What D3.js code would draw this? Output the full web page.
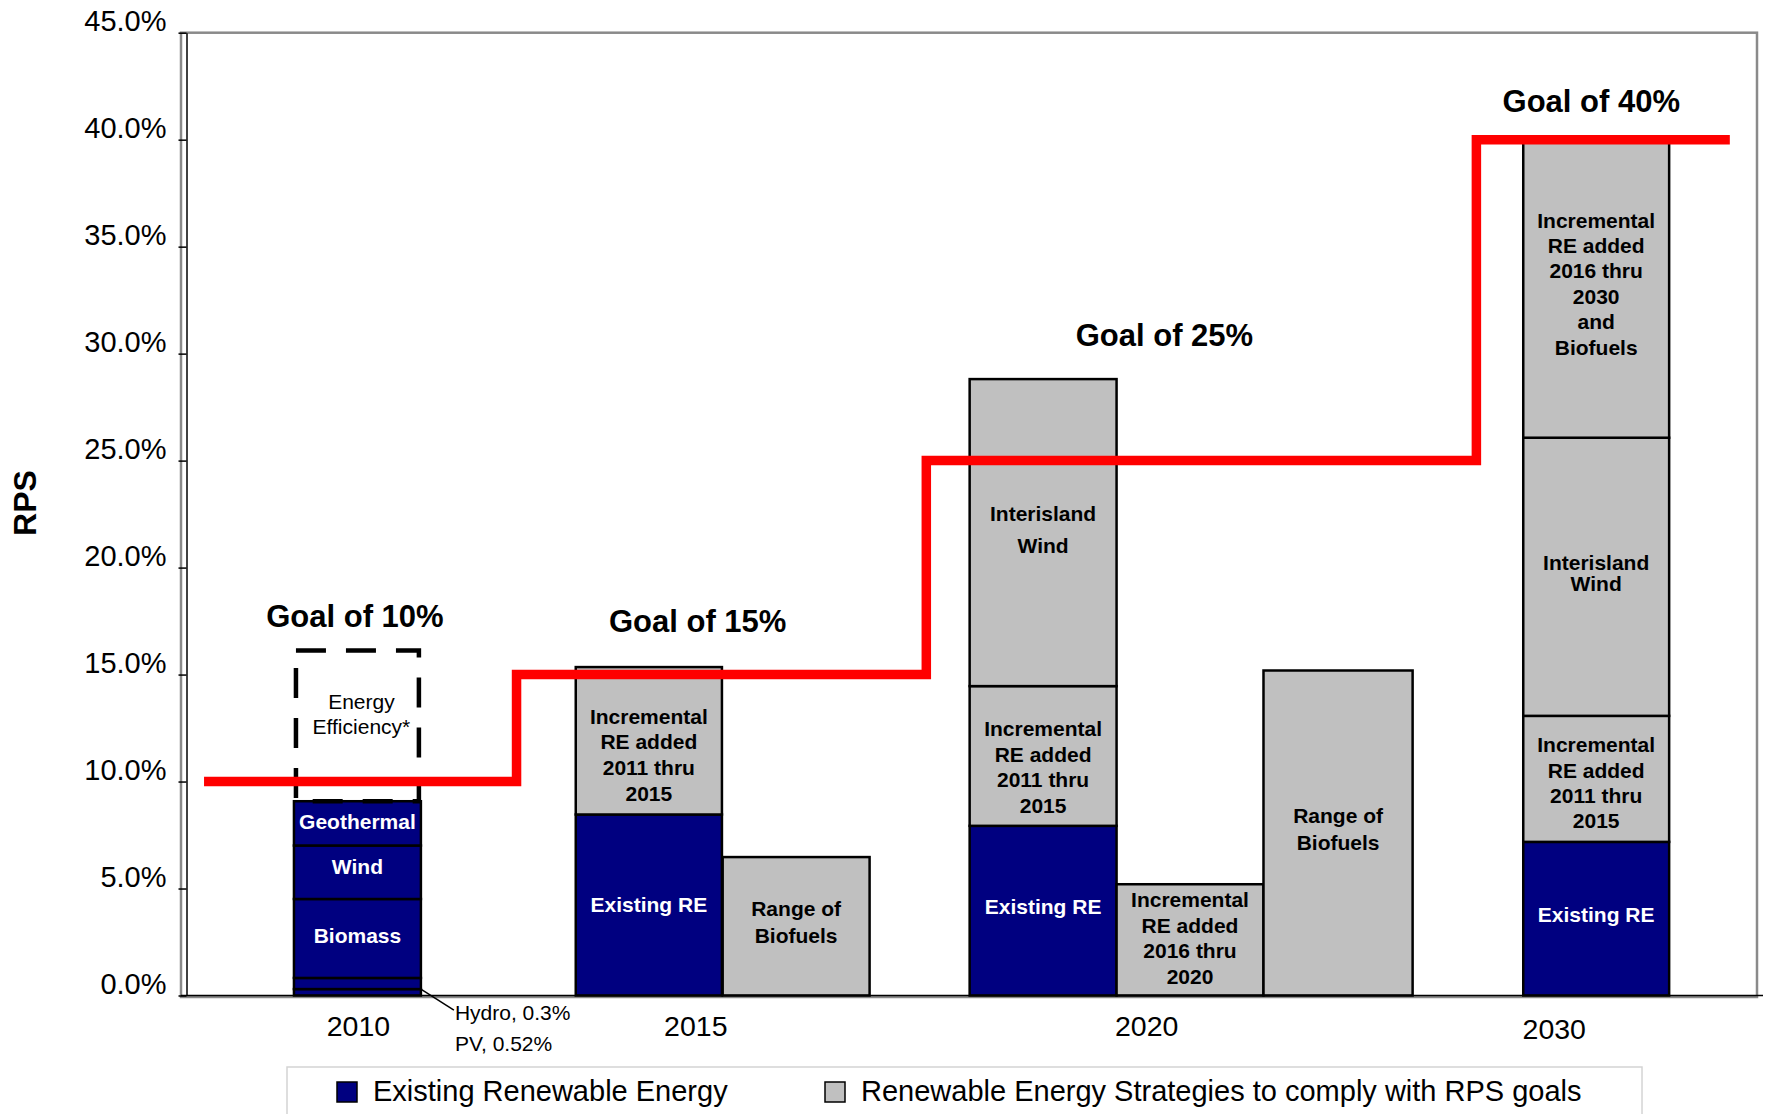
<!DOCTYPE html>
<html>
<head>
<meta charset="utf-8">
<script src="https://cdn.jsdelivr.net/npm/d3@7"></script>
<style>
  html, body { margin: 0; padding: 0; background: #fff; }
  svg { display: block; font-family: "Liberation Sans", Arial, sans-serif; }
</style>
</head>
<body>
<svg id="chart" width="1769" height="1114"></svg>
<script>
// ---------------- DATA ----------------
const years = ["2010", "2015", "2020", "2030"];
const goalValues = [10, 15, 25, 40];
const goalLabels = ["Goal of 10%", "Goal of 15%", "Goal of 25%", "Goal of 40%"];
const yTicks = [0, 5, 10, 15, 20, 25, 30, 35, 40, 45];
const seriesNames = ["Existing Renewable Energy", "Renewable Energy Strategies to comply with RPS goals"];

// stacked columns (bottom to top), values in % of RPS
const segmentValues = [
  [0.3, 0.52, 3.69, 2.5, 2.07],      // 2010: Hydro, PV, Biomass, Wind, Geothermal
  [8.46, 6.89],                        // 2015: Existing RE, Incremental 2011-2015
  [6.47],                              // 2015: Range of Biofuels
  [7.93, 6.53, 14.35],                 // 2020: Existing RE, Incremental 2011-2015, Interisland Wind
  [5.2],                               // 2020: Incremental 2016-2020
  [15.19],                             // 2020: Range of Biofuels
  [7.18, 5.89, 13.0, 13.93]            // 2030: Existing, Inc 2011-2015, Interisland Wind, Inc 2016-2030 & Biofuels
];
// 0 = Existing Renewable Energy, 1 = RPS strategies
const segmentSeries = [
  [0, 0, 0, 0, 0],
  [0, 1],
  [1],
  [0, 1, 1],
  [1],
  [1],
  [0, 1, 1, 1]
];
const segmentLabels = [
  ["", "", "Biomass", "Wind", "Geothermal"],
  ["Existing RE", "Incremental\nRE added\n2011 thru\n2015"],
  ["Range of\nBiofuels"],
  ["Existing RE", "Incremental\nRE added\n2011 thru\n2015", "Interisland\nWind"],
  ["Incremental\nRE added\n2016 thru\n2020"],
  ["Range of\nBiofuels"],
  ["Existing RE", "Incremental\nRE added\n2011 thru\n2015", "Interisland\nWind", "Incremental\nRE added\n2016 thru\n2030\nand\nBiofuels"]
];
const efficiencyValue = 7.05;   // Energy Efficiency* (2010, dashed)
const efficiencyLabel = "Energy\nEfficiency*";
const smallNotes = ["Hydro, 0.3%", "PV, 0.52%"];

// ---------------- LAYOUT ----------------
const W = 1769, H = 1114;
const plot = { left: 181, right: 1757, top: 32.7, bottom: 995.5 };
const colors = { existing: "#000080", strategy: "#C0C0C0", goal: "#FF0000" };

const svg = d3.select("#chart");
const y = d3.scaleLinear().domain([0, 45]).range([plot.bottom, plot.top]);
// x in "column units" (one unit = one full column width)
const x = d3.scaleLinear().domain([0, 10.72]).range([plot.left + 1, plot.right]);

const colStart = [0.762, 2.68, 3.68, 5.361, 6.361, 7.361, 9.129];
const colWidth = [0.864, 0.995, 1.0, 1.0, 1.0, 1.015, 0.993];
const yearPos = [1.201, 3.497, 6.566, 9.34];
const yearBaseline = [1036, 1036, 1036, 1039];
const goalStepX = [0.15, 2.277, 5.066, 8.81, 10.535];
const goalLabelPos = [[1.177, 17.2], [3.51, 17.0], [6.687, 30.35], [9.592, 41.3]];

// per-label fine tuning: [lineHeight, dy]
function labelStyle(c, s) {
  const key = c + "-" + s;
  const m = {
    "1-1": [25.6, 14], "3-1": [25.6, 11], "3-2": [32, -3], "6-2": [21, -4],
    "2-0": [27, -4], "5-0": [27, -4], "0-3": [25, -6], "0-2": [25, -3], "0-4": [25, -2],
    "6-3": [25.4, -5], "6-1": [25.4, 4], "4-0": [25.6, -2], "6-0": [25, -4], "3-0": [25, -4], "1-0": [25, 0]
  };
  return m[key] || [25.6, 0];
}

// ---------------- PLOT FRAME ----------------
svg.append("rect")
  .attr("x", plot.left).attr("y", plot.top)
  .attr("width", plot.right - plot.left).attr("height", plot.bottom - plot.top + 1.5)
  .attr("fill", "none").attr("stroke", "#8a8a8a").attr("stroke-width", 2.5);

// ---------------- BARS ----------------
const barG = svg.append("g");
segmentValues.forEach((vals, c) => {
  let acc = 0;
  vals.forEach((v, s) => {
    const y0 = acc, y1 = acc + v;
    acc = y1;
    barG.append("rect")
      .attr("x", x(colStart[c]))
      .attr("y", y(y1))
      .attr("width", x(colStart[c] + colWidth[c]) - x(colStart[c]))
      .attr("height", y(y0) - y(y1))
      .attr("fill", segmentSeries[c][s] === 0 ? colors.existing : colors.strategy)
      .attr("stroke", "#000")
      .attr("stroke-width", 2.5);
  });
});

// Energy efficiency dashed box on top of the 2010 column
const total2010 = d3.sum(segmentValues[0]);
const effX0 = x(colStart[0]) + 2, effX1 = x(colStart[0] + colWidth[0]) - 2;
svg.append("rect")
  .attr("x", effX0)
  .attr("y", y(total2010 + efficiencyValue))
  .attr("width", effX1 - effX0)
  .attr("height", y(total2010) - y(total2010 + efficiencyValue))
  .attr("fill", "none")
  .attr("stroke", "#000")
  .attr("stroke-width", 4.5)
  .attr("stroke-dasharray", "30,20");

// ---------------- AXES ----------------
const yAxis = d3.axisLeft(y)
  .tickValues(yTicks)
  .tickSize(8)
  .tickSizeOuter(0)
  .tickPadding(12)
  .tickFormat(d => d.toFixed(1) + "%");
const yAxisG = svg.append("g")
  .attr("transform", `translate(${plot.left + 5.5},0)`)
  .call(yAxis);
yAxisG.select(".domain").attr("stroke", "#000").attr("stroke-width", 1.5);
yAxisG.selectAll(".tick line").attr("stroke", "#000").attr("stroke-width", 1.5);
yAxisG.selectAll(".tick text")
  .attr("dy", "-0.08em")
  .attr("fill", "#000")
  .style("font-family", "'Liberation Sans', Arial, sans-serif")
  .style("font-size", "29px");

// x axis line
svg.append("line")
  .attr("x1", plot.left).attr("x2", plot.right + 6)
  .attr("y1", y(0)).attr("y2", y(0))
  .attr("stroke", "#000").attr("stroke-width", 1.5);

// year labels
svg.append("g").selectAll("text").data(years).join("text")
  .attr("x", (d, i) => x(yearPos[i]))
  .attr("y", (d, i) => yearBaseline[i])
  .attr("text-anchor", "middle")
  .attr("font-size", 28.5)
  .attr("fill", "#000")
  .text(d => d);

// y axis title
svg.append("text")
  .attr("transform", `translate(36,503) rotate(-90)`)
  .attr("text-anchor", "middle")
  .attr("font-size", 32)
  .attr("font-weight", "bold")
  .text("RPS");

// ---------------- GOAL STEP LINE ----------------
const stepPts = [];
goalValues.forEach((g, i) => {
  stepPts.push([x(goalStepX[i]), y(g)]);
  stepPts.push([x(goalStepX[i + 1]), y(g)]);
});
svg.append("path")
  .attr("d", d3.line()(stepPts))
  .attr("fill", "none")
  .attr("stroke", colors.goal)
  .attr("stroke-width", 9.5)
  .attr("stroke-linejoin", "miter")
  .attr("stroke-linecap", "butt");

// goal labels
svg.append("g").selectAll("text").data(goalLabels).join("text")
  .attr("x", (d, i) => x(goalLabelPos[i][0]))
  .attr("y", (d, i) => y(goalLabelPos[i][1]))
  .attr("text-anchor", "middle")
  .attr("font-size", 31)
  .attr("font-weight", "bold")
  .attr("fill", "#000")
  .text(d => d);

// ---------------- SEGMENT LABELS ----------------
const labG = svg.append("g");
segmentValues.forEach((vals, c) => {
  let acc = 0;
  vals.forEach((v, s) => {
    const y0 = acc, y1 = acc + v;
    acc = y1;
    const txt = segmentLabels[c][s];
    if (!txt) return;
    const lines = txt.split("\n");
    const [lh, dy] = labelStyle(c, s);
    const cy = (y(y0) + y(y1)) / 2 + dy;
    const cx = x(colStart[c] + colWidth[c] / 2);
    const t = labG.append("text")
      .attr("text-anchor", "middle")
      .attr("font-size", 21)
      .attr("font-weight", "bold")
      .attr("fill", segmentSeries[c][s] === 0 ? "#fff" : "#000");
    lines.forEach((ln, k) => {
      t.append("tspan")
        .attr("x", cx)
        .attr("y", cy - (lines.length - 1) * lh / 2 + k * lh + 7.5)
        .text(ln);
    });
  });
});

// Energy efficiency label
{
  const lines = efficiencyLabel.split("\n");
  const t = svg.append("text").attr("text-anchor", "middle").attr("font-size", 21).attr("fill", "#000");
  lines.forEach((ln, k) => {
    t.append("tspan")
      .attr("x", x(colStart[0] + colWidth[0] / 2) + 4)
      .attr("y", y(total2010 + efficiencyValue) + 59 + k * 25)
      .text(ln);
  });
}

// Hydro / PV notes with leader line
{
  const barRight = x(colStart[0] + colWidth[0]);
  const hydroY = y(segmentValues[0][0]);
  svg.append("line")
    .attr("x1", barRight).attr("y1", hydroY)
    .attr("x2", barRight + 33).attr("y2", hydroY + 21)
    .attr("stroke", "#000").attr("stroke-width", 1.5);
  svg.append("text").attr("x", barRight + 34).attr("y", 1020)
    .attr("font-size", 21).attr("fill", "#000").text(smallNotes[0]);
  svg.append("text").attr("x", barRight + 34).attr("y", 1051)
    .attr("font-size", 21).attr("fill", "#000").text(smallNotes[1]);
}

// ---------------- LEGEND ----------------
const leg = svg.append("g");
leg.append("rect")
  .attr("x", 287).attr("y", 1067).attr("width", 1355).attr("height", 80)
  .attr("fill", "#fff").attr("stroke", "#d4d4d4").attr("stroke-width", 1.5);
const legX = [337, 825];
seriesNames.forEach((name, i) => {
  leg.append("rect")
    .attr("x", legX[i]).attr("y", 1082).attr("width", 20).attr("height", 20)
    .attr("fill", i === 0 ? colors.existing : colors.strategy)
    .attr("stroke", "#000").attr("stroke-width", 1.5);
  leg.append("text")
    .attr("x", legX[i] + 36).attr("y", 1101)
    .attr("font-size", 29).attr("fill", "#000")
    .text(name);
});
</script>
</body>
</html>
